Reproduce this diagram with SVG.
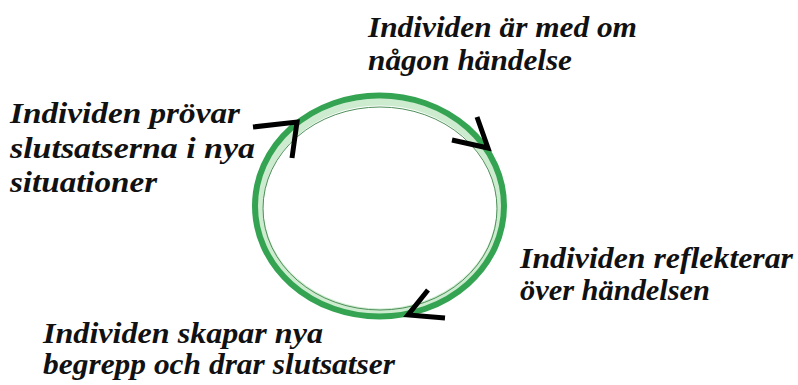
<svg xmlns="http://www.w3.org/2000/svg" width="798" height="385" viewBox="0 0 798 385">
<style>
.g{fill:none}
.arr{fill:none;stroke:#000;stroke-width:5;stroke-linecap:butt;stroke-linejoin:miter}
text{font-family:'Liberation Serif','Times New Roman',serif;font-weight:bold;font-style:italic;font-size:30px;fill:#111}
</style>
<rect width="798" height="385" fill="#fff"/>
<g id="cycle">
<ellipse class="g" cx="380" cy="207" rx="120" ry="105" stroke="#cdeccf" stroke-width="7"/>
<ellipse class="g" cx="379.5" cy="206" rx="124.5" ry="110.5" stroke="#35a452" stroke-width="6"/>
<ellipse class="g" cx="380" cy="208.5" rx="117" ry="101.5" stroke="#4f8f5a" stroke-width="1"/>
</g>
<g id="connectors">
<polyline class="arr" points="253,127 297,122 292,158"/>
<polyline class="arr" points="452,140 488,148 477,117"/>
<polyline class="arr" points="428,290 408,315 445,318"/>
</g>
<g id="node-top"><text x="368" y="37" textLength="269" lengthAdjust="spacingAndGlyphs">Individen är med om</text><text x="368" y="70" textLength="204" lengthAdjust="spacingAndGlyphs">någon händelse</text></g>
<g id="node-left"><text x="10" y="123" textLength="230" lengthAdjust="spacingAndGlyphs">Individen prövar</text><text x="10" y="158" textLength="245" lengthAdjust="spacingAndGlyphs">slutsatserna i nya</text><text x="10" y="192" textLength="147" lengthAdjust="spacingAndGlyphs">situationer</text></g>
<g id="node-right"><text x="520" y="268" textLength="273" lengthAdjust="spacingAndGlyphs">Individen reflekterar</text><text x="520" y="300" textLength="190" lengthAdjust="spacingAndGlyphs">över händelsen</text></g>
<g id="node-bottom"><text x="43" y="343" textLength="280" lengthAdjust="spacingAndGlyphs">Individen skapar nya</text><text x="43" y="374" textLength="352" lengthAdjust="spacingAndGlyphs">begrepp och drar slutsatser</text></g>
</svg>
